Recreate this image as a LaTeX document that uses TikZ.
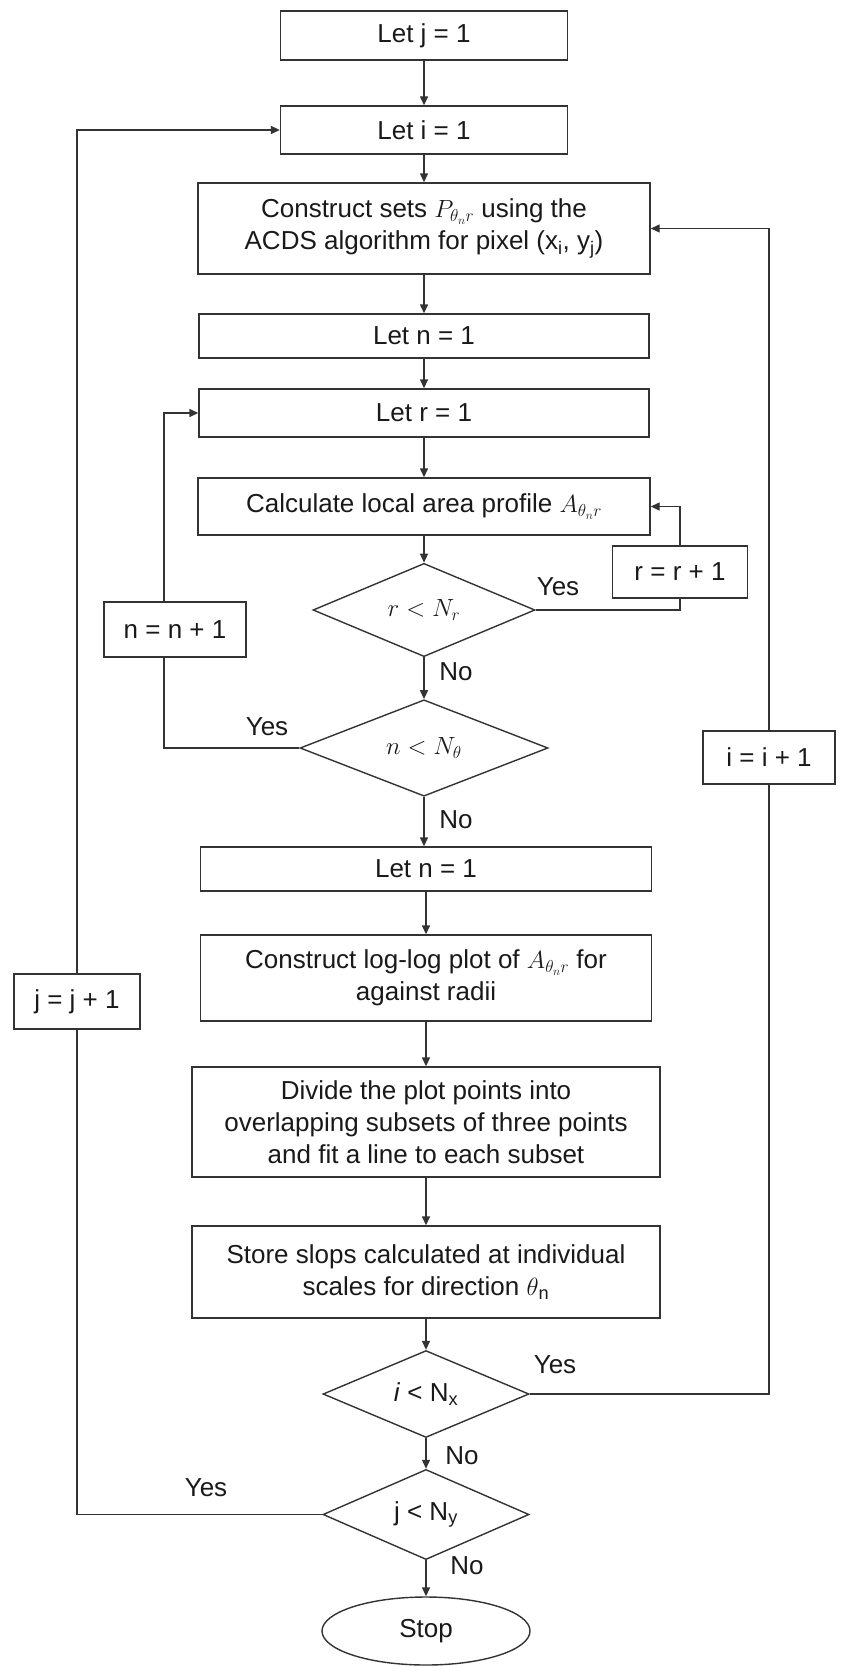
\documentclass[tikz,border=0pt]{standalone}
\usepackage{fontspec}
\setmainfont{Liberation Sans}
\usetikzlibrary{shapes.geometric,arrows.meta,calc}

\begin{document}
\begin{tikzpicture}[x=1pt,y=-1pt,
  every node/.style={font=\fontsize{26}{32}\selectfont, text=black!90},
  line/.style={draw=black!80, line width=1.4pt},
  arr/.style={line, -{Triangle[length=9pt,width=8pt]}},
  box/.style={draw=black!80, line width=1.4pt, rectangle, align=center, inner sep=0pt},
  dec/.style={draw=black!80, line width=1.4pt, diamond, inner sep=0pt},
  lbl/.style={inner sep=0pt}
]
\useasboundingbox (0,0) rectangle (842,1667);

% main column
\node[box, minimum width=287pt, minimum height=49pt] (letj) at (424,35.5) {Let j = 1};
\node[box, minimum width=287pt, minimum height=48pt] (leti) at (424,130) {Let i = 1};
\node[box, minimum width=452pt, minimum height=91pt] (cons) at (424,228.5)
  {Construct sets $P_{\theta_n r}$ using the\\ ACDS algorithm for pixel (x\textsubscript{i}, y\textsubscript{j})};
\node[box, minimum width=450pt, minimum height=44pt] (letn) at (424,336) {Let n = 1};
\node[box, minimum width=450pt, minimum height=48pt] (letr) at (424,413) {Let r = 1};
\node[box, minimum width=452pt, minimum height=57pt] (calc) at (424,506.5) {Calculate local area profile $A_{\theta_n r}$};
\node[dec, minimum width=222pt, minimum height=71pt] (dr) at (424,610) {$r < N_r$};
\node[dec, minimum width=248pt, minimum height=72pt] (dn) at (424,748) {$n < N_\theta$};
\node[box, minimum width=451pt, minimum height=44pt] (letn2) at (426,869) {Let n = 1};
\node[box, minimum width=451pt, minimum height=86pt] (loglog) at (426,978)
  {Construct log-log plot of $A_{\theta_n r}$ for\\ against radii};
\node[box, minimum width=468pt, minimum height=110pt] (divide) at (426,1122)
  {Divide the plot points into\\ overlapping subsets of three points\\ and fit a line to each subset};
\node[box, minimum width=468pt, minimum height=92pt] (store) at (426,1272)
  {Store slops calculated at individual\\ scales for direction $\theta$\textsubscript{n}};
\node[dec, minimum width=206pt, minimum height=74pt] (dx) at (426,1394) {\textit{i} < N\textsubscript{x}};
\node[dec, minimum width=206pt, minimum height=75pt] (dy) at (426,1514.5) {j < N\textsubscript{y}};
\node[draw=black!80, line width=1.4pt, ellipse, inner sep=0pt, minimum width=208pt, minimum height=68pt] (stop) at (426,1631) {Stop};

% side boxes
\node[box, minimum width=135pt, minimum height=52pt] (rr) at (680,572) {r = r + 1};
\node[box, minimum width=142pt, minimum height=55pt] (nn) at (175,629.5) {n = n + 1};
\node[box, minimum width=132pt, minimum height=53pt] (ii) at (769,757.5) {i = i + 1};
\node[box, minimum width=126pt, minimum height=55pt] (jj) at (77,1001.5) {j = j + 1};

% main flow
\draw[arr] (letj.south) -- (leti.north);
\draw[arr] (leti.south) -- (cons.north);
\draw[arr] (cons.south) -- (letn.north);
\draw[arr] (letn.south) -- (letr.north);
\draw[arr] (letr.south) -- (calc.north);
\draw[arr] (calc.south) -- (dr.north);
\draw[arr] (dr.south) -- (dn.north);
\draw[arr] (dn.south) -- (dn.south |- letn2.north);
\draw[arr] (letn2.south) -- (loglog.north);
\draw[arr] (loglog.south) -- (divide.north);
\draw[arr] (divide.south) -- (store.north);
\draw[arr] (store.south) -- (dx.north);
\draw[arr] (dx.south) -- (dy.north);
\draw[arr] (dy.south) -- (stop.north);

% loops
\draw[line] (dr.east) -| (rr.south);
\draw[arr] (rr.north) |- (calc.east);
\draw[line] (dn.west) -| ([xshift=-11pt]nn.south);
\draw[arr] ([xshift=-11pt]nn.north) |- (letr.west);
\draw[line] (dx.east) -| (ii.south);
\draw[arr] (ii.north) |- (cons.east);
\draw[line] (dy.west) -| (jj.south);
\draw[arr] (jj.north) |- (leti.west);

% labels
\node[lbl] (y1) at (558,587) {Yes};
\node[lbl] (n1) at (456,672) {No};
\node[lbl] (y2) at (267,727) {Yes};
\node[lbl] (n2) at (456,820) {No};
\node[lbl] (y3) at (555,1365) {Yes};
\node[lbl] (n3) at (462,1456) {No};
\node[lbl] (y4) at (206,1488) {Yes};
\node[lbl] (n4) at (467,1566) {No};
\end{tikzpicture}
\end{document}
